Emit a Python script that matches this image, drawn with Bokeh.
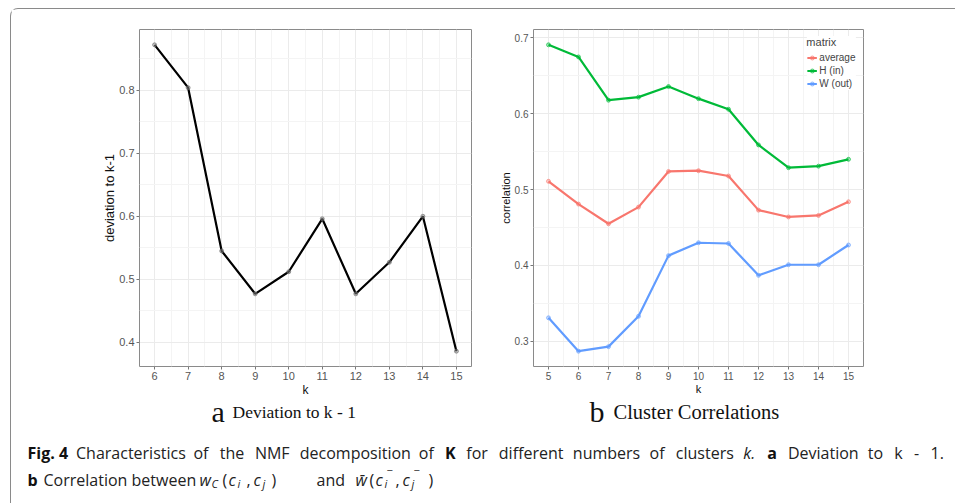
from bokeh.plotting import figure
from bokeh.models import Range1d, FixedTicker, Legend, LegendItem
from bokeh.layouts import row, column
from bokeh.embed import file_html
from bokeh.resources import INLINE
from bokeh.core.properties import value

# ---------------- data ----------------
k_dev = [6, 7, 8, 9, 10, 11, 12, 13, 14, 15]
deviation = [0.872, 0.804, 0.545, 0.477, 0.512, 0.596, 0.477, 0.527, 0.600, 0.386]
dev_y_ticks = [0.4, 0.5, 0.6, 0.7, 0.8]

k_corr = [5, 6, 7, 8, 9, 10, 11, 12, 13, 14, 15]
corr_average = [0.511, 0.481, 0.455, 0.477, 0.524, 0.525, 0.518, 0.473, 0.464, 0.466, 0.484]
corr_h_in = [0.691, 0.675, 0.618, 0.622, 0.636, 0.620, 0.606, 0.559, 0.529, 0.531, 0.540]
corr_w_out = [0.331, 0.287, 0.293, 0.333, 0.413, 0.430, 0.429, 0.387, 0.401, 0.401, 0.427]
corr_y_ticks = [0.3, 0.4, 0.5, 0.6, 0.7]
series_names = ["average", "H (in)", "W (out)"]
series_colors = ["#F8766D", "#00BA38", "#619CFF"]

caption_line1 = [("Fig. 4", "bold"), ("Characteristics", "normal"), ("of", "normal"),
                 ("the", "normal"), ("NMF", "normal"), ("decomposition", "normal"),
                 ("of", "normal"), ("K", "bold"), ("for", "normal"), ("different", "normal"),
                 ("numbers", "normal"), ("of", "normal"), ("clusters", "normal"),
                 ("k.", "italic"), ("a", "bold"), ("Deviation", "normal"), ("to", "normal"),
                 ("k", "normal"), ("-", "normal"), ("1.", "normal")]

AX_FONT = "Liberation Sans"
SERIF = value("Liberation Serif")
SANS = value("Open Sans")


def expand(vals, f=0.05):
    lo, hi = min(vals), max(vals)
    d = (hi - lo) * f
    return lo - d, hi + d


def mids(t):
    step = t[1] - t[0]
    return [t[0] - step / 2] + [(a + b) / 2 for a, b in zip(t[:-1], t[1:])] + [t[-1] + step / 2]


def style(p, xt, yt, tick_fs, title_fs, ytitle_fs):
    p.xaxis.ticker = FixedTicker(ticks=xt, minor_ticks=mids(xt))
    p.yaxis.ticker = FixedTicker(ticks=yt, minor_ticks=mids(yt))
    p.outline_line_color = "#8a8a8a"
    p.outline_line_width = 1
    p.background_fill_color = "white"
    p.border_fill_color = "white"
    for g in (p.xgrid, p.ygrid):
        g.grid_line_color = "#ebebeb"
        g.grid_line_width = 1
        g.minor_grid_line_color = "#f4f4f4"
        g.minor_grid_line_width = 1
    for ax in (p.xaxis, p.yaxis):
        ax.axis_line_color = None
        ax.major_tick_line_color = "#777777"
        ax.major_tick_out = 3
        ax.major_tick_in = 0
        ax.minor_tick_line_color = None
        ax.major_label_text_font = AX_FONT
        ax.major_label_text_font_size = tick_fs
        ax.major_label_text_color = "#555555"
        ax.major_label_standoff = 1
        ax.axis_label_text_font = AX_FONT
        ax.axis_label_text_font_style = "normal"
        ax.axis_label_text_color = "#111111"
        ax.axis_label_standoff = 0
    p.xaxis.axis_label_text_font_size = title_fs
    p.yaxis.axis_label_text_font_size = ytitle_fs
    p.yaxis.formatter.use_scientific = False


# ---------------- left plot ----------------
x0, x1 = expand(k_dev)
y0, y1 = expand(deviation)
p1 = figure(width=472, height=393, x_range=Range1d(x0, x1), y_range=Range1d(y0, y1),
            min_border_left=128, min_border_right=12, min_border_top=20, min_border_bottom=34,
            output_backend="svg", toolbar_location=None)
p1.line(k_dev, deviation, line_color="black", line_width=2.2)
p1.scatter(k_dev, deviation, size=4, fill_color="#888888", fill_alpha=0.5,
           line_color="#666666", line_alpha=0.6)
p1.xaxis.axis_label = "k"
p1.yaxis.axis_label = "deviation to k-1"
style(p1, k_dev, dev_y_ticks, "11px", "12px", "13px")
p1.yaxis.axis_label_standoff = -1

# ---------------- right plot ----------------
all_corr = corr_average + corr_h_in + corr_w_out
x0, x1 = expand(k_corr)
y0, y1 = expand(all_corr)
p2 = figure(width=472, height=393, x_range=Range1d(x0, x1), y_range=Range1d(y0, y1),
            min_border_left=50, min_border_right=92, min_border_top=20, min_border_bottom=36,
            output_backend="svg", toolbar_location=None)
items = []
for name, vals, col in zip(series_names, [corr_average, corr_h_in, corr_w_out], series_colors):
    r1 = p2.line(k_corr, vals, line_color=col, line_width=2.2)
    r2 = p2.scatter(k_corr, vals, size=4, fill_color=col, fill_alpha=0.35,
                    line_color=col, line_alpha=0.6)
    items.append(LegendItem(label=name, renderers=[r1, r2]))
p2.xaxis.axis_label = "k"
p2.yaxis.axis_label = "correlation"
style(p2, k_corr, corr_y_ticks, "10px", "11px", "11px")

legend = Legend(items=items, title="matrix", location="top_right")
legend.margin = 7
legend.padding = 3
legend.spacing = 0
legend.glyph_width = 10
legend.glyph_height = 13
legend.label_height = 13
legend.label_standoff = 3
legend.title_standoff = 3
legend.label_text_font = AX_FONT
legend.label_text_font_size = "10px"
legend.title_text_font = AX_FONT
legend.title_text_font_size = "11px"
legend.title_text_font_style = "normal"
legend.border_line_color = None
legend.background_fill_color = "white"
legend.background_fill_alpha = 1
p2.add_layout(legend)

# ---------------- captions (transparent layer overlapping the plots' bottom margin) ----------------
OVERLAP = 22
CAP_TOP = 402 - OVERLAP
CAP_H = 503 - CAP_TOP
cap = figure(width=944, height=CAP_H, x_range=Range1d(11, 955),
             y_range=Range1d(CAP_TOP + CAP_H, CAP_TOP),
             x_axis_location=None, y_axis_location=None,
             min_border=0, output_backend="svg", toolbar_location=None,
             styles={"margin-top": f"-{OVERLAP}px"})
cap.grid.visible = False
cap.outline_line_color = None
cap.background_fill_alpha = 0
cap.border_fill_alpha = 0

SUB_Y = 411
cap.text(x=[211, 589], y=[SUB_Y] * 2, text=["a", "b"], text_font=SERIF,
         text_font_size="30px", text_baseline="alphabetic", text_color="#111111")
cap.text(x=[232], y=[SUB_Y], text=["Deviation to k - 1"],
         text_font=SERIF, text_font_size="17.5px", text_baseline="alphabetic", text_color="#111111")
cap.text(x=[613], y=[SUB_Y], text=["Cluster Correlations"],
         text_font=SERIF, text_font_size="20.5px", text_baseline="alphabetic", text_color="#111111")

# approximate Open Sans advance widths (units per 2048) for justifying line 1
OS_W = {" ": 532, "a": 1139, "b": 1255, "c": 975, "d": 1255, "e": 1149, "f": 694, "g": 1122,
        "h": 1257, "i": 518, "j": 518, "k": 1075, "l": 518, "m": 1905, "n": 1257, "o": 1237,
        "p": 1255, "r": 836, "s": 977, "t": 723, "u": 1257, "v": 1026, "w": 1593, "x": 1073,
        "C": 1296, "D": 1479, "F": 1057, "K": 1208, "M": 1823, "N": 1524, "1": 1171, "4": 1171,
        ".": 545, "-": 659}
CAP_FS = 16


def tw(s, st):
    f = 1.06 if st == "bold" else 1.0
    return sum(OS_W.get(ch, 1100) for ch in s) / 2048 * CAP_FS * 0.965 * f


L1 = 452
line_left, line_right, label_gap = 27, 943, 9
widths = [tw(w, st) for w, st in caption_line1]
n_gaps = len(caption_line1) - 2
gap = (line_right - line_left - sum(widths) - label_gap) / n_gaps
xs = []
cx = line_left
for i, wdt in enumerate(widths):
    xs.append(cx)
    cx += wdt + (label_gap if i == 0 else gap)
for st in ("normal", "bold", "italic"):
    sel = [i for i, (_, s) in enumerate(caption_line1) if s == st]
    cap.text(x=[xs[i] for i in sel], y=[L1] * len(sel),
             text=[caption_line1[i][0] for i in sel],
             text_font=SANS, text_font_style=st, text_font_size=f"{CAP_FS}px",
             text_baseline="alphabetic", text_color="#222222" if st != "bold" else "#111111")

# line 2
L2 = 479
XO = 4
cap.text(x=[27], y=[L2], text=["b"], text_font=SANS, text_font_style="bold",
         text_font_size=f"{CAP_FS}px", text_baseline="alphabetic", text_color="#111111")
cap.text(x=[43] + [v + XO for v in [218, 242, 267, 312, 365, 391, 424]],
         y=[L2] * 8,
         text=["Correlation between", "(", ",", ")", "and", "(", ",", ")"],
         text_font=SANS, text_font_size=f"{CAP_FS}px", text_baseline="alphabetic",
         text_color="#222222")
cap.text(x=[v + XO for v in [195, 224, 249, 351, 371, 398]],
         y=[L2] * 6,
         text=["w", "c", "c", "w\u0304", "c", "c"],
         text_font=SANS, text_font_style="italic", text_font_size=f"{CAP_FS}px",
         text_baseline="alphabetic", text_color="#222222")
cap.text(x=[v + XO for v in [207, 233, 258, 380, 407]], y=[L2 + 4] * 5,
         text=["C", "i", "j", "i", "j"],
         text_font=SANS, text_font_style="italic", text_font_size="11px",
         text_baseline="alphabetic", text_color="#222222")
cap.text(x=[v + XO for v in [382, 409]], y=[L2 - 10] * 2, text=["\u2212", "\u2212"],
         text_font=SANS, text_font_size="11px",
         text_baseline="alphabetic", text_color="#222222")

root = column(row(p1, p2), cap,
              styles={"border-top": "1.5px solid #8a8a8a", "border-left": "1.5px solid #8a8a8a",
                      "border-top-left-radius": "8px", "margin-left": "9.5px",
                      "margin-top": "7.5px"})

open("out.html", "w").write(file_html(root, INLINE))
